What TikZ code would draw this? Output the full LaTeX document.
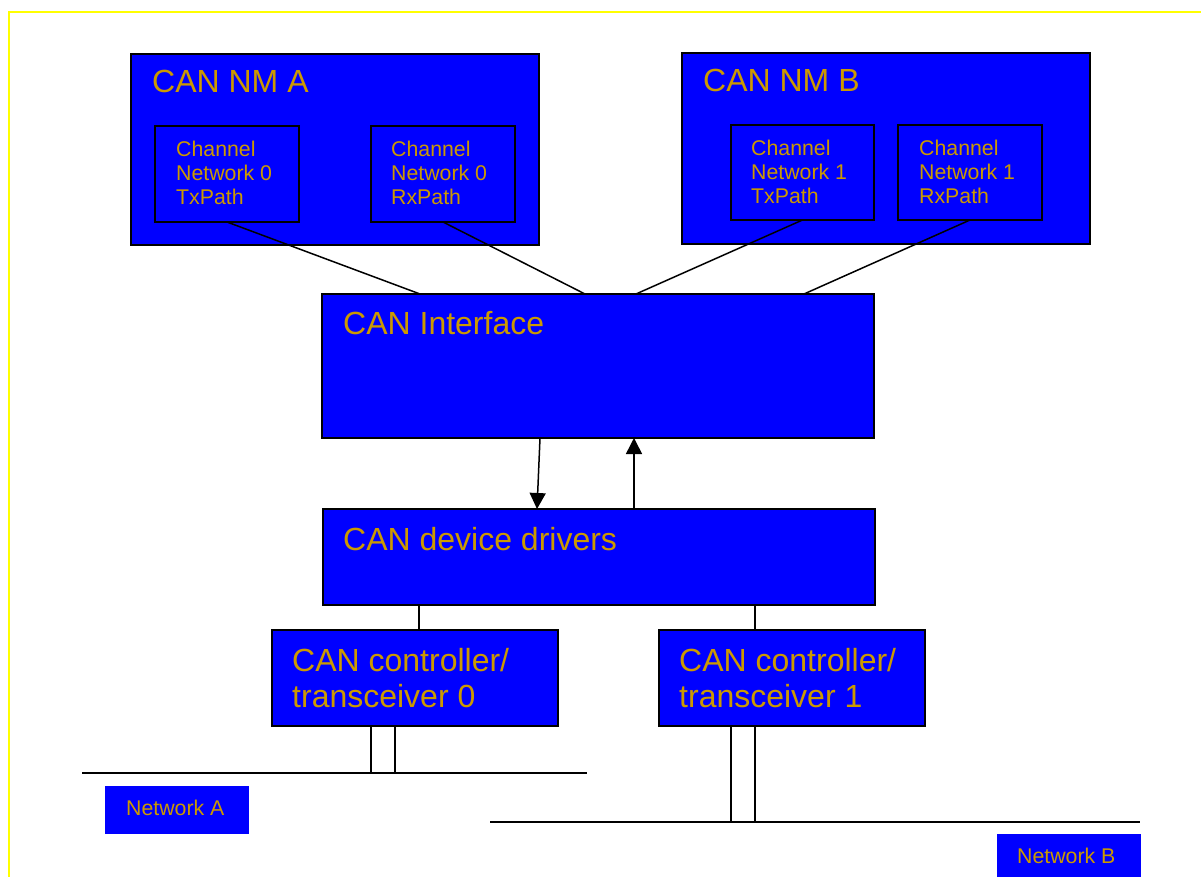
\documentclass[tikz,border=0pt]{standalone}
\usepackage{fontspec}
\setmainfont{Liberation Sans}
\usetikzlibrary{arrows.meta,calc}
\definecolor{boxblue}{RGB}{0,0,255}
\definecolor{txtgold}{RGB}{204,153,0}
\definecolor{frameyellow}{RGB}{255,255,0}
\begin{document}
\begin{tikzpicture}[x=1pt,y=-1pt,
  box/.style={draw=black, line width=2pt, fill=boxblue, inner sep=0pt, outer sep=0pt, anchor=north west},
  flatbox/.style={fill=boxblue, inner sep=0pt, outer sep=0pt, anchor=north west},
  bigtxt/.style={font=\fontsize{32}{36}\selectfont, text=txtgold, anchor=base west, inner sep=0pt},
  smalltxt/.style={font=\fontsize{21.3}{24}\selectfont, text=txtgold, anchor=base west, inner sep=0pt},
  wire/.style={line width=1.5pt, draw=black},
  arr/.style={wire, -{Triangle[length=16pt,width=16pt]}}
]
\useasboundingbox (0,0) rectangle (1201,877);
\clip (0,0) rectangle (1201,877);
% frame
\draw[frameyellow, line width=2.5pt] (9,900) -- (9,12) -- (1220,12);

% top boxes
\node[box, minimum width=408pt, minimum height=191pt] (nmA) at (131,54) {};
\node[box, minimum width=408pt, minimum height=191pt] (nmB) at (682,53) {};
\node[box, minimum width=144pt, minimum height=96pt] (tx0) at (155,126) {};
\node[box, minimum width=144pt, minimum height=96pt] (rx0) at (371,126) {};
\node[box, minimum width=143pt, minimum height=95pt] (tx1) at (731,125) {};
\node[box, minimum width=144pt, minimum height=95pt] (rx1) at (898,125) {};

\node[bigtxt] (tA) at (152,93) {CAN NM A};
\node[bigtxt] (tB) at (703,92) {CAN NM B};

\node[smalltxt] (tx0a) at (176,157) {Channel};
\node[smalltxt] (tx0b) at (176,181) {Network 0};
\node[smalltxt] (tx0c) at (176,205) {TxPath};
\node[smalltxt] (rx0a) at (391,157) {Channel};
\node[smalltxt] (rx0b) at (391,181) {Network 0};
\node[smalltxt] (rx0c) at (391,205) {RxPath};
\node[smalltxt] (tx1a) at (751,156) {Channel};
\node[smalltxt] (tx1b) at (751,180) {Network 1};
\node[smalltxt] (tx1c) at (751,204) {TxPath};
\node[smalltxt] (rx1a) at (919,156) {Channel};
\node[smalltxt] (rx1b) at (919,180) {Network 1};
\node[smalltxt] (rx1c) at (919,204) {RxPath};

% interface and drivers
\node[box, minimum width=552pt, minimum height=144pt] (iface) at (322,294) {};
\node[bigtxt] (tI) at (343,334) {CAN Interface};
\node[box, minimum width=552pt, minimum height=96pt] (drv) at (323,509) {};
\node[bigtxt] (tD) at (343,550) {CAN device drivers};

% controllers
\node[box, minimum width=286pt, minimum height=96pt] (ctl0) at (272,630) {};
\node[bigtxt] (c0a) at (292,671) {CAN controller/};
\node[bigtxt] (c0b) at (292,707) {transceiver 0};
\node[box, minimum width=266pt, minimum height=96pt] (ctl1) at (659,630) {};
\node[bigtxt] (c1a) at (679,671) {CAN controller/};
\node[bigtxt] (c1b) at (679,707) {transceiver 1};

% network labels
\node[flatbox, minimum width=144pt, minimum height=48pt] (netA) at (105,786) {};
\node[smalltxt] (tnA) at (126,815) {Network A};
\node[flatbox, minimum width=144pt, minimum height=50pt] (netB) at (997,834) {};
\node[smalltxt] (tnB) at (1017,863) {Network B};

% connectors top
\draw[wire] (tx0.south) -- ($(iface.north west)+(98,0)$);
\draw[wire] (rx0.south) -- ($(iface.north west)+(263,0)$);
\draw[wire] (tx1.south) -- ($(iface.north west)+(314,0)$);
\draw[wire] (rx1.south) -- ($(iface.north west)+(482,0)$);

% arrows
\draw[arr] ($(iface.south west)+(218,0)$) -- ($(drv.north west)+(214,0)$);
\draw[arr] ($(drv.north west)+(311,0)$) -- ($(iface.south west)+(312,0)$);

% drivers to controllers
\draw[wire] ($(drv.south west)+(96,0)$) -- ($(ctl0.north west)+(147,0)$);
\draw[wire] ($(drv.south west)+(432,0)$) -- ($(ctl1.north west)+(96,0)$);

% bus lines
\coordinate (naL) at (82,773);
\coordinate (naR) at (587,773);
\coordinate (nbL) at (490,822);
\coordinate (nbR) at (1140,822);
\draw[line width=1.5pt] (naL) -- (naR);
\draw[line width=1.5pt] (nbL) -- (nbR);
\draw[wire] ($(ctl0.south west)+(99,0)$) coordinate (p1) -- (p1 |- naL);
\draw[wire] ($(ctl0.south west)+(123,0)$) coordinate (p2) -- (p2 |- naL);
\draw[wire] ($(ctl1.south west)+(72,0)$) coordinate (p3) -- (p3 |- nbL);
\draw[wire] ($(ctl1.south west)+(96,0)$) coordinate (p4) -- (p4 |- nbL);
\end{tikzpicture}
\end{document}
